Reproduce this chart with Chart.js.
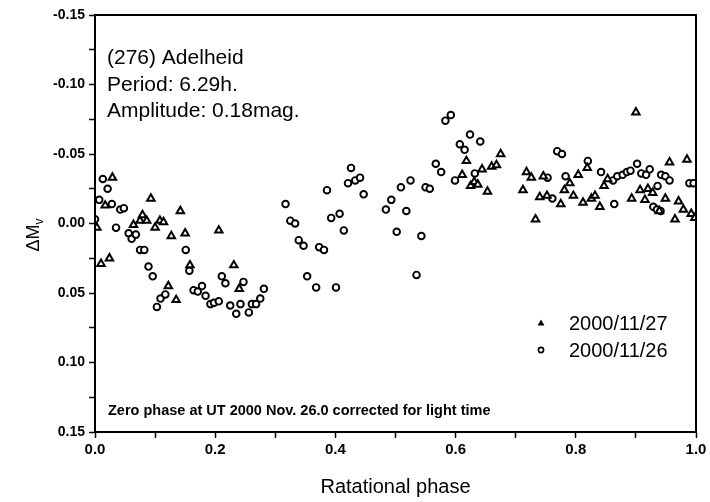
<!DOCTYPE html>
<html>
<head>
<meta charset="utf-8">
<script src="https://cdn.jsdelivr.net/npm/chart.js@4/dist/chart.umd.min.js"></script>
<style>
  html, body { margin: 0; padding: 0; background: #fff; }
  #wrap { width: 710px; height: 502px; }
</style>
</head>
<body>
<div id="wrap"><canvas id="lightCurve" width="710" height="502"></canvas></div>
<script>
// ============================================
// DATOS
// ============================================

// 2000/11/26 (circulos)
const phase26 = [
    0.000, 0.007, 0.013, 0.021, 0.028, 0.035, 0.042, 0.048, 0.056, 0.061,
    0.068, 0.075, 0.082, 0.089, 0.096, 0.103, 0.109, 0.117, 0.151, 0.157,
    0.164, 0.171, 0.178, 0.184, 0.192, 0.198, 0.206, 0.211, 0.217, 0.225,
    0.235, 0.242, 0.247, 0.256, 0.261, 0.268, 0.275, 0.281, 0.317, 0.325,
    0.333, 0.339, 0.347, 0.353, 0.368, 0.373, 0.381, 0.386, 0.393, 0.401,
    0.407, 0.414, 0.421, 0.426, 0.433, 0.441, 0.447, 0.484, 0.493, 0.502,
    0.509, 0.518, 0.525, 0.535, 0.543, 0.550, 0.557, 0.567, 0.576, 0.583,
    0.592, 0.599, 0.607, 0.615, 0.624, 0.632, 0.641, 0.753, 0.761, 0.769,
    0.777, 0.783, 0.820, 0.842, 0.862, 0.864, 0.869, 0.878, 0.885, 0.891,
    0.902, 0.909, 0.917, 0.923, 0.929, 0.935, 0.936, 0.941, 0.942, 0.949,
    0.956, 0.989, 0.996
];

const mag26 = [
    -0.003, -0.017, -0.032, -0.025, -0.014, 0.003, -0.010, -0.011, 0.007, 0.011,
    0.008, 0.019, 0.019, 0.031, 0.038, 0.060, 0.054, 0.051, 0.019, 0.034,
    0.048, 0.049, 0.045, 0.052, 0.058, 0.057, 0.056, 0.038, 0.043, 0.059,
    0.065, 0.058, 0.042, 0.064, 0.058, 0.058, 0.054, 0.047, -0.014, -0.002,
    0.000, 0.012, 0.016, 0.038, 0.046, 0.017, 0.019, -0.024, -0.004, 0.046,
    -0.007, 0.005, -0.029, -0.040, -0.031, -0.033, -0.021, -0.010, -0.017, 0.006,
    -0.026, -0.009, -0.031, 0.037, 0.009, -0.026, -0.025, -0.043, -0.037, -0.074,
    -0.078, -0.031, -0.057, -0.053, -0.064, -0.036, -0.059, -0.033, -0.018, -0.052,
    -0.050, -0.034, -0.045, -0.037, -0.031, -0.014, -0.034, -0.035, -0.037, -0.038,
    -0.043, -0.036, -0.035, -0.039, -0.012, -0.010, -0.027, -0.009, -0.035, -0.034,
    -0.031, -0.029, -0.029
];

// 2000/11/27 (triangulos)
const phase27 = [
    0.003, 0.010, 0.017, 0.024, 0.029, 0.064, 0.075, 0.079, 0.086, 0.093,
    0.100, 0.108, 0.114, 0.122, 0.127, 0.135, 0.142, 0.150, 0.158, 0.206,
    0.231, 0.240, 0.611, 0.618, 0.625, 0.631, 0.637, 0.644, 0.653, 0.660,
    0.668, 0.675, 0.712, 0.718, 0.726, 0.733, 0.740, 0.746, 0.752, 0.775,
    0.781, 0.790, 0.796, 0.804, 0.812, 0.819, 0.826, 0.832, 0.840, 0.847,
    0.853, 0.893, 0.900, 0.907, 0.915, 0.920, 0.928, 0.939, 0.949, 0.956,
    0.965, 0.971, 0.979, 0.985, 0.992, 0.998
];

const mag27 = [
    0.003, 0.029, -0.013, 0.025, -0.033, 0.001, -0.002, -0.006, -0.002, -0.018,
    0.003, -0.002, -0.001, 0.045, 0.009, 0.055, -0.009, 0.007, 0.030, 0.005,
    0.030, 0.047, -0.035, -0.045, -0.027, -0.030, -0.028, -0.039, -0.023, -0.041,
    -0.042, -0.050, -0.024, -0.037, -0.033, -0.003, -0.019, -0.034, -0.020, -0.014,
    -0.024, -0.029, -0.020, -0.035, -0.015, -0.040, -0.018, -0.020, -0.012, -0.027,
    -0.032, -0.018, -0.080, -0.024, -0.017, -0.025, -0.022, -0.009, -0.018, -0.044,
    -0.003, -0.016, -0.010, -0.046, -0.007, -0.004
];

const seriesLabels = ['2000/11/27', '2000/11/26'];

const infoLines = [
    '(276) Adelheid',
    'Period: 6.29h.',
    'Amplitude: 0.18mag.'
];

const footNote =
    'Zero phase at UT 2000 Nov. 26.0 corrected for light time';

const xTitle = 'Ratational phase';



// ============================================
// ESTILO
// ============================================

const FONT = "'Liberation Sans', Arial, Helvetica, sans-serif";

const toPoints = (xs, ys) =>
    xs.map((x, i) => ({ x, y: ys[i] }));



// ============================================
// PLUGIN: MARCO, TEXTOS Y LEYENDA
// ============================================

const framePlugin = {

    id: 'frame',

    afterDraw(chart) {

        const { ctx, chartArea: a } = chart;

        ctx.save();

        // marco
        ctx.strokeStyle = '#000';
        ctx.lineWidth = 2;
        ctx.strokeRect(a.left, a.top, a.right - a.left, a.bottom - a.top);

        // titulo eje y: ΔMv
        ctx.translate(a.left - 62, a.top + 220);
        ctx.rotate(-Math.PI / 2);
        ctx.fillStyle = '#000';
        ctx.textBaseline = 'alphabetic';
        ctx.textAlign = 'left';
        ctx.font = `18px ${FONT}`;
        const w = ctx.measureText('ΔM').width;
        const total = w + 6;
        ctx.fillText('ΔM', -total / 2, 6);
        ctx.font = `12px ${FONT}`;
        ctx.fillText('v', -total / 2 + w, 10);
        ctx.restore();

        // texto informativo
        ctx.save();
        ctx.fillStyle = '#000';
        ctx.textAlign = 'left';
        ctx.textBaseline = 'alphabetic';
        ctx.font = `21px ${FONT}`;
        infoLines.forEach((line, i) => {
            ctx.fillText(line, a.left + 12, a.top + 49 + i * 26.5);
        });

        // nota inferior
        ctx.font = `bold 14.5px ${FONT}`;
        ctx.fillText(footNote, a.left + 13, a.bottom - 17);

        // leyenda
        ctx.font = `20px ${FONT}`;
        ctx.textBaseline = 'middle';

        chart.data.datasets.forEach((ds, i) => {

            const y = a.top + 308 + i * 27;
            const x = a.left + 446;

            ctx.strokeStyle = '#000';
            ctx.fillStyle = '#000';
            ctx.lineWidth = 1.6;
            ctx.beginPath();

            if (ds.pointStyle === 'triangle') {
                ctx.moveTo(x, y - 3.5);
                ctx.lineTo(x + 3.5, y + 2.5);
                ctx.lineTo(x - 3.5, y + 2.5);
                ctx.closePath();
                ctx.fill();
            } else {
                ctx.arc(x, y, 2.6, 0, Math.PI * 2);
                ctx.stroke();
            }

            ctx.fillText(ds.label, a.left + 474, y + 1);
        });

        ctx.restore();
    }
};



// ============================================
// GRAFICA
// ============================================

new Chart(document.getElementById('lightCurve').getContext('2d'), {

    type: 'scatter',

    data: {

        datasets: [

            {
                label: seriesLabels[0],
                data: toPoints(phase27, mag27),
                pointStyle: 'triangle',
                pointRadius: 4.3,
                pointBorderWidth: 2,
                borderColor: '#000',
                backgroundColor: '#fff'
            },

            {
                label: seriesLabels[1],
                data: toPoints(phase26, mag26),
                pointStyle: 'circle',
                pointRadius: 3.3,
                pointBorderWidth: 1.9,
                borderColor: '#000',
                backgroundColor: '#fff'
            }
        ]
    },

    options: {

        responsive: false,
        animation: false,

        layout: {
            padding: { top: 15, right: 14, left: 0, bottom: 0 }
        },

        plugins: {
            legend: { display: false },
            tooltip: { enabled: false }
        },

        scales: {

            x: {
                type: 'linear',
                min: 0,
                max: 1,
                afterFit: s => { s.height = 70; },
                border: { display: true, color: '#000', width: 2 },
                grid: {
                    drawOnChartArea: false,
                    tickLength: 6,
                    tickColor: '#000',
                    tickWidth: 1.5
                },
                ticks: {
                    stepSize: 0.1,
                    autoSkip: false,
                    maxRotation: 0,
                    color: '#000',
                    padding: 3,
                    font: { family: FONT, size: 15, weight: 'bold' },
                    callback: v => {
                        const k = Math.round(v * 10);
                        return k % 2 === 0 ? (k / 10).toFixed(1) : '';
                    }
                },
                title: {
                    display: true,
                    text: xTitle,
                    color: '#000',
                    font: { family: FONT, size: 20 },
                    padding: { top: 0, bottom: 3 }
                }
            },

            y: {
                type: 'linear',
                min: -0.15,
                max: 0.15,
                reverse: true,
                afterFit: s => { s.width = 95; },
                border: { display: true, color: '#000', width: 2 },
                grid: {
                    drawOnChartArea: false,
                    tickLength: 6,
                    tickColor: '#000',
                    tickWidth: 1.5
                },
                ticks: {
                    stepSize: 0.025,
                    autoSkip: false,
                    color: '#000',
                    padding: 4,
                    font: { family: FONT, size: 14, weight: 'bold' },
                    callback: v => {
                        const k = Math.round(v * 1000);
                        if (k % 50 !== 0) return '';
                        const t = (k / 1000).toFixed(2);
                        return t === '-0.00' ? '0.00' : t;
                    }
                }
            }
        }
    },

    plugins: [framePlugin]
});
</script>
</body>
</html>
